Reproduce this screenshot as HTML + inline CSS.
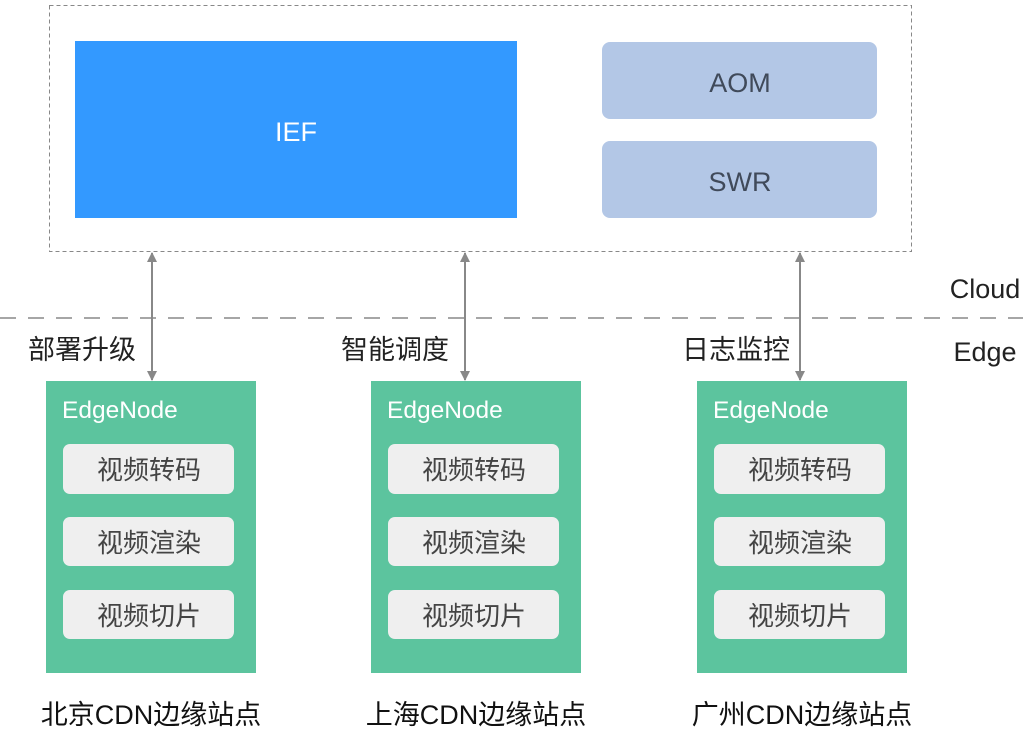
<!DOCTYPE html>
<html><head><meta charset="utf-8"><style>
body{margin:0;background:#fff}
svg text{font-family:"Liberation Sans","Noto Sans CJK SC",sans-serif}
</style></head><body>
<svg width="1023" height="735" viewBox="0 0 1023 735" xmlns="http://www.w3.org/2000/svg">
<defs>
<marker id="a" viewBox="0 0 10 10" refX="9" refY="5" markerWidth="14" markerHeight="10" orient="auto-start-reverse" markerUnits="userSpaceOnUse"><path d="M0,0 L10,5 L0,10 z" fill="#888"/></marker>
</defs>
<rect x="49.5" y="5.5" width="862" height="246" fill="#fff" stroke="#888" stroke-dasharray="4,3"/>
<rect x="75" y="41" width="442" height="177" fill="#3399ff"/>
<text x="296" y="141" font-size="27" fill="#fff" text-anchor="middle">IEF</text>
<rect x="602" y="42" width="275" height="77" rx="8" fill="#b3c7e6"/>
<text x="740" y="92" font-size="27" fill="#404a5a" text-anchor="middle">AOM</text>
<rect x="602" y="141" width="275" height="77" rx="8" fill="#b3c7e6"/>
<text x="740" y="191" font-size="27" fill="#404a5a" text-anchor="middle">SWR</text>
<line x1="0" y1="318" x2="1023" y2="318" stroke="#888" stroke-width="1.5" stroke-dasharray="16,12"/>
<text x="985" y="298" font-size="27" fill="#222" text-anchor="middle">Cloud</text>
<text x="985" y="361" font-size="27" fill="#222" text-anchor="middle">Edge</text>
<g stroke="#888" stroke-width="2" marker-start="url(#a)" marker-end="url(#a)">
<line x1="152" y1="253" x2="152" y2="380"/>
<line x1="465" y1="253" x2="465" y2="380"/>
<line x1="800" y1="253" x2="800" y2="380"/>
</g>
<g font-size="27" fill="#222">
<text x="28" y="359">部署升级</text>
<text x="341" y="359">智能调度</text>
<text x="682" y="359">日志监控</text>
</g>
<g id="n">
<rect x="46" y="381" width="210" height="292" fill="#5cc49e"/>
<text x="62" y="418" font-size="24.5" fill="#fff">EdgeNode</text>
<rect x="63" y="444" width="171" height="50" rx="7" fill="#efefef"/>
<rect x="63" y="517" width="171" height="49" rx="7" fill="#efefef"/>
<rect x="63" y="590" width="171" height="49" rx="7" fill="#efefef"/>
<g font-size="26" fill="#444" text-anchor="middle">
<text x="149" y="479">视频转码</text>
<text x="149" y="552">视频渲染</text>
<text x="149" y="625">视频切片</text>
</g>
</g>
<use href="#n" x="325"/>
<use href="#n" x="651"/>
<g font-size="27" fill="#111" text-anchor="middle">
<text x="151" y="724">北京CDN边缘站点</text>
<text x="476" y="724">上海CDN边缘站点</text>
<text x="802" y="724">广州CDN边缘站点</text>
</g>
</svg>
</body></html>
